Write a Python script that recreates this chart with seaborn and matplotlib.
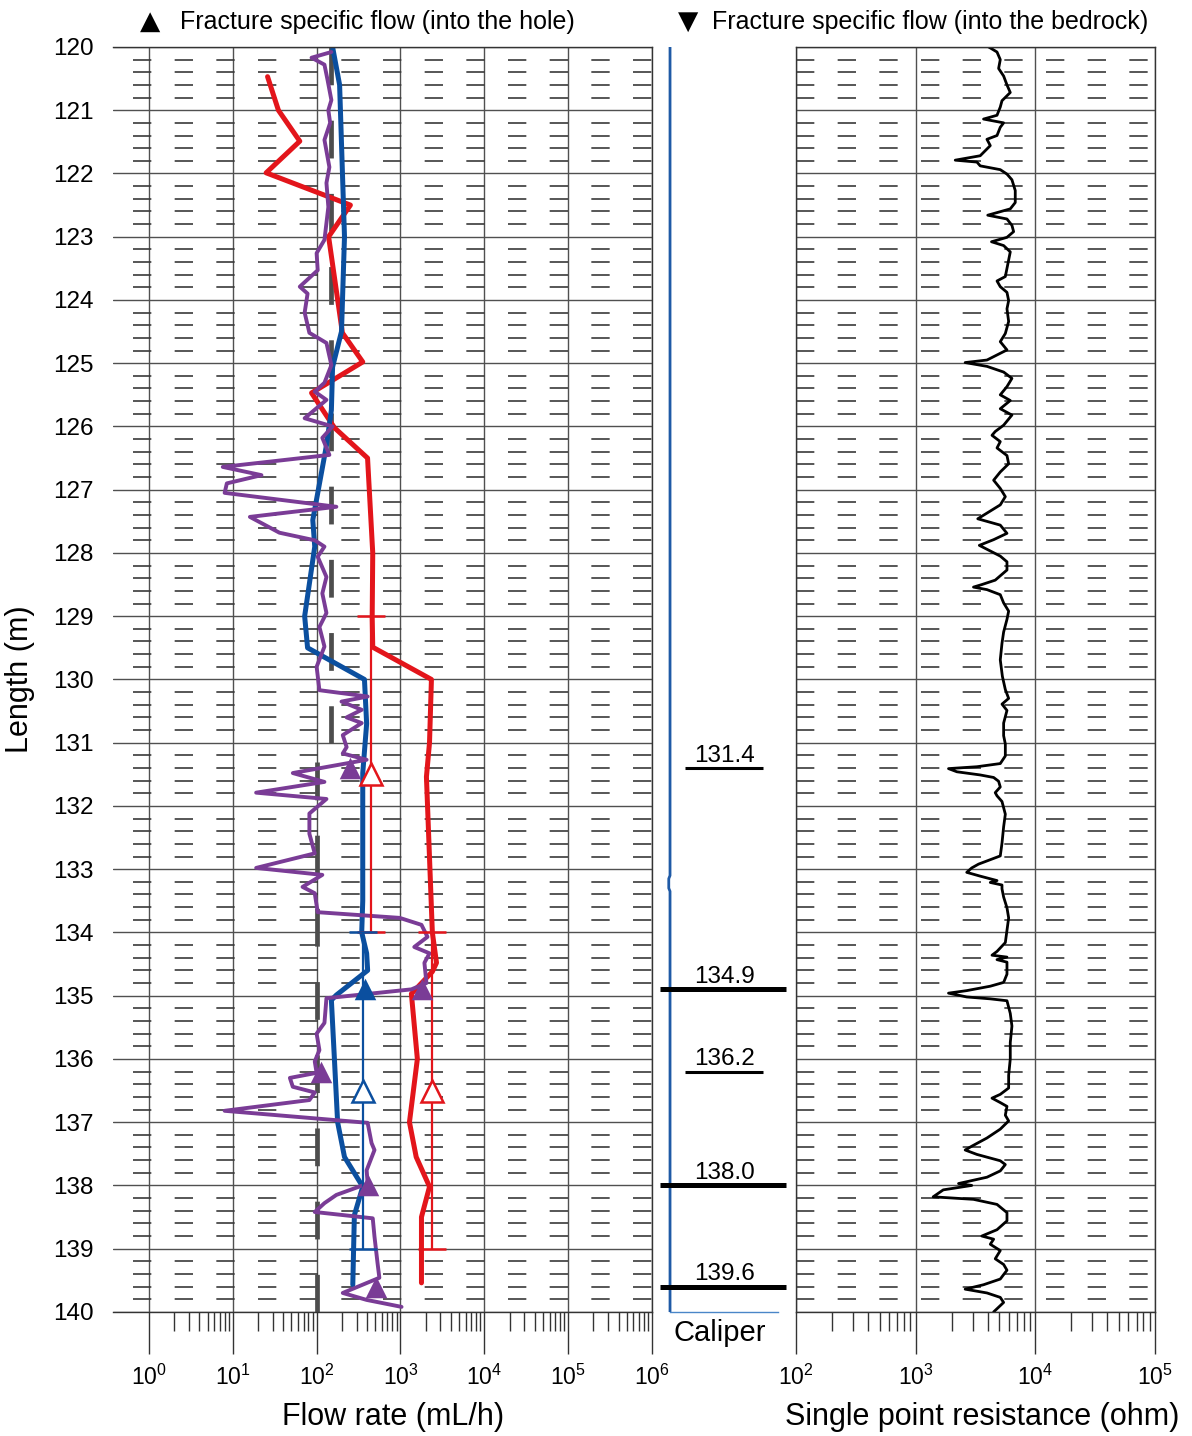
import numpy as np
import matplotlib
matplotlib.use("Agg")
import matplotlib.pyplot as plt
import seaborn as sns
from matplotlib.ticker import MultipleLocator, FixedLocator, FuncFormatter, NullFormatter

red_depth = [120.47, 121.0, 121.49, 121.99, 122.5, 123.0, 124.52, 124.98, 125.47, 126.02,
             126.5, 128.0, 129.0, 129.49, 130.0, 131.0, 131.54, 134.0, 134.48, 134.62,
             134.97, 136.0, 137.0, 137.55, 138.02, 138.5, 139.54]
red_flow = [26, 35, 63, 25, 253, 139, 203, 355, 87, 163,
            405, 467, 460, 467, 2340, 2220, 2040, 2400, 2690, 2400,
            1350, 1590, 1280, 1540, 2220, 1780, 1780]

blue_depth = [120.0, 120.6, 123.0, 124.5, 125.06, 125.74, 126.3, 127.48, 127.9, 129.0,
              129.5, 130.0, 130.7, 131.48, 133.5, 134.0, 134.33, 134.6, 134.99, 135.07,
              136.0, 137.0, 137.55, 138.02, 138.47, 139.57]
blue_flow = [155, 188, 215, 198, 155, 150, 131, 90, 95, 72,
             78, 372, 395, 355, 355, 345, 395, 406, 172, 150,
             163, 178, 215, 355, 282, 270]

purple_depth = [120.08, 120.17, 120.28, 120.52, 120.84, 121.00, 121.20, 121.47, 121.90, 122.15,
                122.53, 123.05, 123.26, 123.53, 123.79, 123.90, 124.20, 124.52, 124.68, 125.03,
                125.31, 125.45, 125.58, 125.87, 126.00, 126.18, 126.45, 126.64, 126.77, 126.90,
                127.05, 127.27, 127.43, 127.68, 127.80, 127.90, 128.06, 128.38, 128.64, 128.95,
                129.17, 129.48, 129.80, 130.17, 130.27, 130.35, 130.48, 130.60, 130.69, 130.88,
                131.07, 131.17, 131.27, 131.48, 131.62, 131.79, 131.89, 132.12, 132.44, 132.75,
                132.98, 133.09, 133.28, 133.38, 133.68, 133.77, 133.88, 134.07, 134.23, 134.33,
                134.48, 134.80, 134.90, 135.04, 135.43, 135.60, 135.86, 136.04, 136.22, 136.30,
                136.44, 136.53, 136.65, 136.82, 137.01, 137.33, 137.44, 137.76, 137.97, 138.15,
                138.28, 138.42, 138.52, 138.81, 139.23, 139.46, 139.70, 139.81, 139.92]
purple_flow = [150, 87, 124, 135, 150, 138, 145, 124, 142, 131,
               138, 124, 100, 103, 63, 78, 72, 82, 131, 150,
               124, 95, 131, 72, 155, 117, 142, 7.6, 22, 8.5,
               8, 172, 16, 36, 95, 124, 103, 131, 117, 131,
               108, 124, 100, 108, 406, 198, 345, 228, 345, 205,
               228, 205, 395, 52, 124, 19, 131, 82, 82, 95,
               19, 117, 68, 95, 103, 980, 1780, 2100, 1460, 2220,
               1930, 2040, 1350, 131, 124, 100, 108, 95, 100, 48,
               52, 95, 82, 8, 406, 452, 490, 395, 406, 172,
               124, 95, 467, 490, 533, 560, 205, 395, 1030]

# lower measurement limit (two stretches)
limit_top = [120.0, 131.3]
limit_bottom = [131.0, 140.0]
limit_flow = [150, 100]

# fracture specific flow, into the hole
frac_purple_depth = [131.4, 134.9, 136.2, 138.0, 139.6]
frac_purple_flow = [253, 1830, 112, 406, 515]
frac_blue_depth = [134.9]
frac_blue_flow = [380]

# section flows (5 m sections)
sec_top = [129.0, 134.0, 134.0]
sec_bottom = [134.0, 139.0, 139.0]
sec_flow = [440, 353, 2400]
sec_color = ["red", "blue", "red"]

# caliper and fracture marks
caliper_depth = [120.0, 133.1, 133.15, 133.3, 133.35, 140.0]
caliper_value = [1.0, 1.0, 0.93, 0.93, 1.0, 1.0]
frac_depth = [131.4, 134.9, 136.2, 138.0, 139.6]
frac_major = [False, True, False, True, True]

# single point resistance
res_depth = [120.00, 120.08, 120.20, 120.34, 120.46, 120.60, 120.72, 120.85, 120.95, 121.08,
             121.14, 121.20, 121.27, 121.40, 121.46, 121.56, 121.72, 121.79, 121.82, 121.88,
             121.94, 122.01, 122.10, 122.27, 122.46, 122.56, 122.66, 122.72, 122.82, 122.92,
             123.01, 123.08, 123.14, 123.24, 123.37, 123.50, 123.63, 123.70, 123.79, 123.88,
             124.01, 124.14, 124.34, 124.53, 124.66, 124.79, 124.95, 124.99, 125.05, 125.14,
             125.24, 125.37, 125.50, 125.59, 125.72, 125.82, 125.98, 126.08, 126.14, 126.24,
             126.34, 126.46, 126.59, 126.72, 126.85, 126.98, 127.11, 127.24, 127.37, 127.46,
             127.56, 127.69, 127.79, 127.88, 128.05, 128.14, 128.27, 128.43, 128.50, 128.54,
             128.58, 128.66, 128.79, 128.92, 129.05, 129.25, 129.43, 129.69, 129.95, 130.16,
             130.30, 130.39, 130.49, 130.69, 130.89, 131.02, 131.21, 131.33, 131.38, 131.41,
             131.46, 131.51, 131.55, 131.61, 131.70, 131.79, 131.84, 131.93, 132.13, 132.33,
             132.59, 132.79, 132.87, 132.92, 132.98, 133.05, 133.11, 133.18, 133.21, 133.25,
             133.31, 133.44, 133.61, 133.77, 133.97, 134.16, 134.30, 134.36, 134.39, 134.43,
             134.47, 134.52, 134.66, 134.79, 134.85, 134.92, 134.96, 135.02, 135.05, 135.08,
             135.28, 135.48, 135.74, 136.00, 136.26, 136.46, 136.56, 136.62, 136.69, 136.75,
             136.89, 136.98, 137.11, 137.25, 137.38, 137.44, 137.51, 137.61, 137.67, 137.77,
             137.87, 137.97, 138.00, 138.07, 138.18, 138.22, 138.30, 138.43, 138.56, 138.70,
             138.80, 138.85, 138.93, 139.03, 139.16, 139.25, 139.34, 139.48, 139.57, 139.64,
             139.70, 139.77, 139.85, 139.95, 140.00]
res_ohm = [4070, 4780, 5090, 4930, 5430, 5790, 6170, 5260, 5090, 4780,
           3690, 5430, 5090, 4780, 3940, 4200, 3460, 2140, 3250, 3460,
           5090, 5790, 6370, 6790, 6790, 6170, 4000, 5790, 6370, 6580,
           5790, 4300, 5430, 6170, 5980, 5790, 5610, 4780, 5090, 5790,
           5980, 5790, 5980, 5610, 5090, 5790, 3940, 2590, 3940, 5430,
           6370, 5790, 5090, 6170, 5090, 6370, 5430, 4620, 4340, 5090,
           4780, 5790, 5980, 5090, 4480, 5090, 5610, 5090, 3940, 3300,
           5090, 5790, 4480, 3400, 5090, 5790, 5790, 4620, 3570, 3040,
           3940, 5090, 5430, 5980, 5790, 5430, 5260, 5090, 5300, 5610,
           5980, 5260, 5790, 5430, 5430, 5610, 5610, 5090, 3250, 1880,
           2210, 3460, 4480, 4930, 5090, 4620, 4780, 5260, 5610, 5430,
           5260, 5090, 3940, 3350, 2940, 2670, 3460, 4780, 4200, 5260,
           5260, 5430, 5790, 5980, 5790, 5610, 4780, 4340, 5790, 4780,
           5790, 5790, 5790, 5430, 4200, 2670, 1880, 2670, 4200, 5790,
           6170, 6370, 6170, 6170, 5980, 5980, 5090, 4340, 5090, 5790,
           5610, 5980, 5090, 3940, 2940, 2590, 3250, 5090, 5610, 5090,
           3940, 2280, 2940, 1700, 1400, 3040, 4780, 5790, 5790, 4780,
           3570, 4480, 4200, 5090, 4620, 5430, 5790, 5090, 3690, 2590,
           3940, 5090, 5430, 4780, 4480]

RED = "#e3151b"
BLUE = "#0b4f9f"
PURPLE = "#7a3c96"
GRAY = "#4d4d4d"
CAL = "#1f5aa6"
GRID = "#505050"
colors = {"red": RED, "blue": BLUE}

sns.set_theme(style="white")
plt.rcParams["font.family"] = ["Liberation Sans", "DejaVu Sans"]
plt.rcParams["mathtext.default"] = "regular"
plt.rcParams["text.color"] = "black"
plt.rcParams["axes.labelcolor"] = "black"
plt.rcParams["xtick.color"] = "black"
plt.rcParams["ytick.color"] = "black"

fig = plt.figure(figsize=(11.92, 14.36), dpi=100)
ax = fig.add_axes([0.0948, 0.0864, 0.4522, 0.8809])
axc = fig.add_axes([0.5470, 0.0864, 0.1208, 0.8809])
axr = fig.add_axes([0.6678, 0.0864, 0.3012, 0.8809])


def pow_fmt(v, _):
    return f"$10^{{{int(round(np.log10(v)))}}}$"


def style_panel(a, lo, hi, first_dec, last_dec, dash_offset):
    a.set_xscale("log")
    a.set_xlim(lo, hi)
    a.set_ylim(140, 120)
    a.xaxis.set_major_locator(FixedLocator([10.0 ** k for k in range(first_dec, last_dec + 1)]))
    a.xaxis.set_major_formatter(FuncFormatter(pow_fmt))
    minors = [m * 10.0 ** k for k in range(first_dec, last_dec) for m in range(2, 10)]
    a.xaxis.set_minor_locator(FixedLocator(minors))
    a.xaxis.set_minor_formatter(NullFormatter())
    a.yaxis.set_major_locator(MultipleLocator(1))
    a.yaxis.set_minor_locator(MultipleLocator(0.2))
    a.grid(True, which="major", axis="both", color=GRID, lw=1.0)
    a.grid(True, which="minor", axis="y", color="#3a3a3a", lw=1.2,
           linestyle=(dash_offset, (11, 14)))
    a.tick_params(axis="x", which="major", direction="out", length=30, width=1,
                  color="#333333", labelsize=16.5, pad=8, bottom=True)
    a.tick_params(axis="x", which="minor", direction="out", length=14, width=1,
                  color="#333333", bottom=True)
    a.tick_params(axis="y", which="both", length=0)
    for s in a.spines.values():
        s.set_color("#333333")
        s.set_linewidth(1.0)
    a.set_axisbelow(True)


# ---- flow panel ----
style_panel(ax, 0.373, 1e6, 0, 6, 13)
ax.spines["left"].set_visible(False)
ax.tick_params(axis="y", labelsize=17.5, pad=14)
ax.yaxis.set_major_formatter(FuncFormatter(lambda v, _: f"{int(round(v))}"))

for t, b, q in zip(limit_top, limit_bottom, limit_flow):
    sns.lineplot(x=[q, q], y=[t, b], sort=False, estimator=None, color=GRAY,
                 lw=3.4, linestyle=(0, (8.0, 7.5)), ax=ax)

sns.lineplot(x=red_flow, y=red_depth, sort=False, estimator=None, color=RED, lw=3.6, ax=ax)
sns.lineplot(x=blue_flow, y=blue_depth, sort=False, estimator=None, color=BLUE, lw=3.6, ax=ax)
sns.lineplot(x=purple_flow, y=purple_depth, sort=False, estimator=None, color=PURPLE,
             lw=2.8, ax=ax)

for t, b, q, c in zip(sec_top, sec_bottom, sec_flow, sec_color):
    mid = (t + b) / 2
    ax.errorbar(q, mid, yerr=(b - t) / 2, fmt="^", ms=16, mfc="white", mec=colors[c],
                mew=1.8, ecolor=colors[c], elinewidth=1.6, capsize=10, capthick=1.6,
                zorder=4)

sns.scatterplot(x=frac_purple_flow, y=frac_purple_depth, marker="^", s=240,
                color=PURPLE, edgecolor=PURPLE, linewidth=0, ax=ax, zorder=5)
sns.scatterplot(x=frac_blue_flow, y=frac_blue_depth, marker="^", s=240,
                color=BLUE, edgecolor=BLUE, linewidth=0, ax=ax, zorder=5)

ax.set_xlabel("Flow rate (mL/h)", fontsize=22, labelpad=9)
ax.xaxis.label.set_x(0.52)
ax.set_ylabel("Length (m)", fontsize=22, labelpad=13)

# ---- caliper panel ----
axc.set_xlim(0, 8)
axc.set_ylim(140, 120)
axc.set_xticks([])
axc.set_yticks([])
for side in ["left", "right", "top"]:
    axc.spines[side].set_visible(False)
axc.spines["bottom"].set_color("#4a86c8")
axc.spines["bottom"].set_linewidth(1.0)
axc.spines["bottom"].set_bounds(1, 7)
axc.patch.set_alpha(0)
sns.lineplot(x=caliper_value, y=caliper_depth, sort=False, estimator=None,
             color=CAL, lw=2.0, ax=axc)
for d, major in zip(frac_depth, frac_major):
    if major:
        axc.hlines(d, 0.44, 7.44, color="black", lw=3.6)
    else:
        axc.hlines(d, 1.83, 6.17, color="black", lw=2.2)
    axc.text(4.0, d - 0.1, f"{d:.1f}", ha="center", va="baseline", fontsize=17.5)
axc.set_xlabel("")
axc.set_ylabel("")
axc.text(0.47, -0.0166, "Caliper", transform=axc.transAxes, ha="center", va="center",
         fontsize=21)

# ---- resistance panel ----
style_panel(axr, 1e2, 1e5, 2, 5, 0)
axr.tick_params(axis="y", labelleft=False)
sns.lineplot(x=res_ohm, y=res_depth, sort=False, estimator=None, color="black",
             lw=2.0, ax=axr)
axr.set_xlabel("Single point resistance (ohm)", fontsize=22, labelpad=9)
axr.xaxis.label.set_x(0.518)
axr.set_ylabel("")

# ---- header legend ----
fig.text(150 / 1192, 1 - 22 / 1436, "\u25b2", family="DejaVu Sans", fontsize=19,
         ha="center", va="center")
fig.text(180 / 1192, 1 - 22 / 1436, "Fracture specific flow (into the hole)",
         fontsize=18, ha="left", va="center")
fig.text(688 / 1192, 1 - 22 / 1436, "\u25bc", family="DejaVu Sans", fontsize=19,
         ha="center", va="center")
fig.text(712 / 1192, 1 - 22 / 1436, "Fracture specific flow (into the bedrock)",
         fontsize=18, ha="left", va="center")

fig.savefig("out.png", dpi=100, facecolor="white")
